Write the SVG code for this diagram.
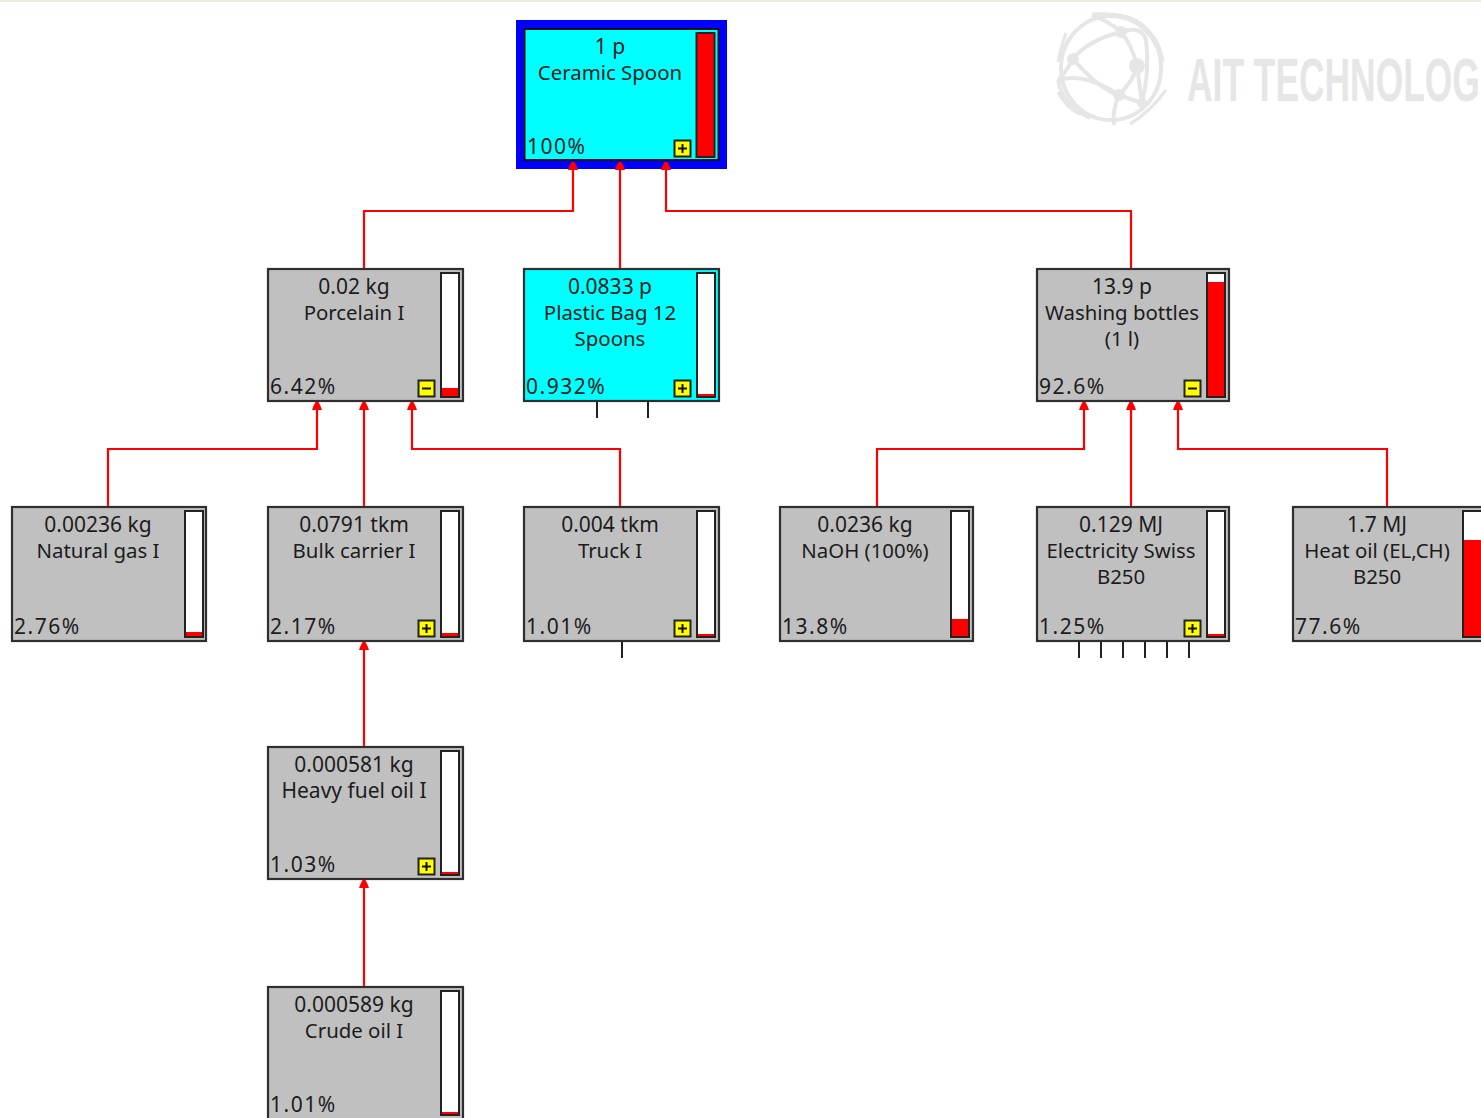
<svg xmlns="http://www.w3.org/2000/svg" width="1481" height="1118" viewBox="0 0 1481 1118">
<defs>
<g id="plus"><rect x="0.5" y="0.5" width="16" height="16" fill="#ffff00" stroke="#222" stroke-width="2"/><path d="M4 8.5H13M8.5 4V13" stroke="#111" stroke-width="2" fill="none"/></g>
<g id="minus"><rect x="0.5" y="0.5" width="16" height="16" fill="#ffff00" stroke="#222" stroke-width="2"/><path d="M4 8.5H13" stroke="#111" stroke-width="2" fill="none"/></g>
<path id="arrow" d="M-5 8L5 8L3.500 4L1.500 0L-1.500 0L-3.500 4Z" fill="#ff0000"/>
</defs>
<style>
text{font-family:"Noto Sans","DejaVu Sans",sans-serif;font-size:21px;fill:#1c1c1c}
.c{text-anchor:middle}
.n{font-size:20.400px}
.p{letter-spacing:1.500px}
.box{fill:#c0c0c0;stroke:#2f2f2f;stroke-width:2.200}
.cy{fill:#00ffff}
.bar{fill:#fff;stroke:#222;stroke-width:2}
.lv{fill:#ff0000}
.cn{fill:none;stroke:#ff0000;stroke-width:2.200}
.st{stroke:#222;stroke-width:2;fill:none}
.logo{fill:none;stroke:#e6e6e6;stroke-width:4}
.ln{fill:#e6e6e6}
</style>
<rect x="0" y="0" width="1481" height="1118" fill="#fff"/>
<rect x="0" y="0" width="1481" height="2" fill="#eeeadd"/>
<g id="logo">
<ellipse class="logo" cx="1111" cy="68" rx="50" ry="52"/>
<path class="logo" d="M1121 32Q1088 40 1073 59Q1100 90 1119 95Q1134 80 1137 66Q1132 45 1121 32Q1110 22 1092 15M1121 32Q1142 25 1146 40Q1150 70 1142 103M1073 59Q1064 75 1058 80Q1085 72 1119 95Q1112 110 1114 125M1119 95L1142 103M1058 80Q1062 105 1090 118M1137 66L1142 103"/>
<path class="logo" style="stroke-width:3" d="M1092 14Q1130 12 1144 26Q1160 40 1163 62M1066 33Q1060 50 1058 62M1166 90Q1150 112 1130 124M1058 92Q1066 108 1080 114"/>
<circle class="ln" cx="1121" cy="32" r="6"/><circle class="ln" cx="1073" cy="59" r="6"/><circle class="ln" cx="1137" cy="66" r="8"/><circle class="ln" cx="1119" cy="95" r="6"/><circle class="ln" cx="1142" cy="103" r="5"/>
<text transform="translate(1187 101) scale(0.58 1)" style="font-family:'Liberation Sans',sans-serif;font-weight:700;font-size:61px;fill:#e6e6e6">AIT TECHNOLOG</text>
</g>
<g id="n-ceramic-spoon">
<rect x="516" y="20" width="211" height="149" fill="#0000ff"/>
<rect x="524.500" y="29" width="194" height="131" fill="#00ffff" stroke="#111" stroke-width="2"/>
<rect class="lv" x="696.500" y="33" width="18" height="124" stroke="#222" stroke-width="2"/>
<text class="c" x="610" y="54">1 p</text><text class="c n" x="610" y="80">Ceramic Spoon</text><text class="p" x="527" y="154">100%</text>
<use href="#plus" x="674" y="140"/>
</g>
<g id="n-porcelain">
<rect class="box" x="268" y="269" width="195" height="132"/><rect class="bar" x="441" y="273" width="18" height="124"/><rect class="lv" x="442" y="388" width="16" height="8"/>
<text class="c" x="354" y="294">0.02 kg</text><text class="c n" x="354" y="320">Porcelain I</text><text class="p" x="270" y="394">6.42%</text>
<use href="#minus" x="418" y="380"/>
</g>
<g id="n-plastic-bag">
<rect class="box cy" x="524" y="269" width="195" height="132"/><rect class="bar" x="697" y="273" width="18" height="124"/><rect class="lv" x="698" y="394" width="16" height="2"/>
<text class="c" x="610" y="294">0.0833 p</text><text class="c n" x="610" y="320">Plastic Bag 12</text><text class="c n" x="610" y="346">Spoons</text><text class="p" x="526" y="394">0.932%</text>
<use href="#plus" x="674" y="380"/>
</g>
<g id="n-washing-bottles">
<rect class="box" x="1037" y="269" width="192" height="132"/><rect class="bar" x="1207" y="273" width="18" height="124"/><rect class="lv" x="1208" y="282" width="16" height="114"/>
<text class="c" x="1122" y="294">13.9 p</text><text class="c n" x="1122" y="320">Washing bottles</text><text class="c n" x="1122" y="346">(1 l)</text><text class="p" x="1039" y="394">92.6%</text>
<use href="#minus" x="1184" y="380"/>
</g>
<g id="n-natural-gas">
<rect class="box" x="12" y="507" width="194" height="134"/><rect class="bar" x="185" y="511" width="18" height="126"/><rect class="lv" x="186" y="632" width="16" height="4"/>
<text class="c" x="98" y="532">0.00236 kg</text><text class="c n" x="98" y="558">Natural gas I</text><text class="p" x="14" y="634">2.76%</text>
</g>
<g id="n-bulk-carrier">
<rect class="box" x="268" y="507" width="195" height="134"/><rect class="bar" x="441" y="511" width="18" height="126"/><rect class="lv" x="442" y="633" width="16" height="3"/>
<text class="c" x="354" y="532">0.0791 tkm</text><text class="c n" x="354" y="558">Bulk carrier I</text><text class="p" x="270" y="634">2.17%</text>
<use href="#plus" x="418" y="620"/>
</g>
<g id="n-truck">
<rect class="box" x="524" y="507" width="195" height="134"/><rect class="bar" x="697" y="511" width="18" height="126"/><rect class="lv" x="698" y="634" width="16" height="2"/>
<text class="c" x="610" y="532">0.004 tkm</text><text class="c n" x="610" y="558">Truck I</text><text class="p" x="526" y="634">1.01%</text>
<use href="#plus" x="674" y="620"/>
</g>
<g id="n-naoh">
<rect class="box" x="780" y="507" width="193" height="134"/><rect class="bar" x="951" y="511" width="18" height="126"/><rect class="lv" x="952" y="619" width="16" height="17"/>
<text class="c" x="865" y="532">0.0236 kg</text><text class="c n" x="865" y="558">NaOH (100%)</text><text class="p" x="782" y="634">13.8%</text>
</g>
<g id="n-electricity">
<rect class="box" x="1037" y="507" width="192" height="134"/><rect class="bar" x="1207" y="511" width="18" height="126"/><rect class="lv" x="1208" y="634" width="16" height="2"/>
<text class="c" x="1121" y="532">0.129 MJ</text><text class="c n" x="1121" y="558">Electricity Swiss</text><text class="c n" x="1121" y="584">B250</text><text class="p" x="1039" y="634">1.25%</text>
<use href="#plus" x="1184" y="620"/>
</g>
<g id="n-heat-oil">
<rect class="box" x="1293" y="507" width="200" height="134"/><rect class="bar" x="1463" y="511" width="30" height="126"/><rect class="lv" x="1464" y="540" width="20" height="96"/>
<text class="c" x="1377" y="532">1.7 MJ</text><text class="c n" x="1377" y="558">Heat oil (EL,CH)</text><text class="c n" x="1377" y="584">B250</text><text class="p" x="1295" y="634">77.6%</text>
</g>
<g id="n-heavy-fuel">
<rect class="box" x="268" y="747" width="195" height="132"/><rect class="bar" x="441" y="751" width="18" height="124"/><rect class="lv" x="442" y="872" width="16" height="2"/>
<text class="c" x="354" y="772">0.000581 kg</text><text class="c" x="354" y="798">Heavy fuel oil I</text><text class="p" x="270" y="872">1.03%</text>
<use href="#plus" x="418" y="858"/>
</g>
<g id="n-crude-oil">
<rect class="box" x="268" y="987" width="195" height="140"/><rect class="bar" x="441" y="991" width="18" height="124"/><rect class="lv" x="442" y="1112" width="16" height="2"/>
<text class="c" x="354" y="1012">0.000589 kg</text><text class="c n" x="354" y="1038">Crude oil I</text><text class="p" x="270" y="1112">1.01%</text>
</g>
<g id="connectors">
<path class="cn" d="M364 268V211H573V166"/><path class="cn" d="M620 268V166"/><path class="cn" d="M1131 268V211H666V166"/>
<path class="cn" d="M108 506V449H317V406"/><path class="cn" d="M364 506V406"/><path class="cn" d="M620 506V449H412V406"/>
<path class="cn" d="M877 506V449H1084V406"/><path class="cn" d="M1131 506V406"/><path class="cn" d="M1387 506V449H1178V406"/>
<path class="cn" d="M364 746V646"/><path class="cn" d="M364 986V884"/>
<use href="#arrow" x="573" y="162"/><use href="#arrow" x="620" y="162"/><use href="#arrow" x="666" y="162"/>
<use href="#arrow" x="317" y="402"/><use href="#arrow" x="364" y="402"/><use href="#arrow" x="412" y="402"/>
<use href="#arrow" x="1084" y="402"/><use href="#arrow" x="1131" y="402"/><use href="#arrow" x="1178" y="402"/>
<use href="#arrow" x="364" y="642"/><use href="#arrow" x="364" y="880"/>
<path class="st" d="M597 402V418M648 402V418M622 642V658M1079 642V658M1101 642V658M1123 642V658M1145 642V658M1167 642V658M1189 642V658"/>
</g>
</svg>
